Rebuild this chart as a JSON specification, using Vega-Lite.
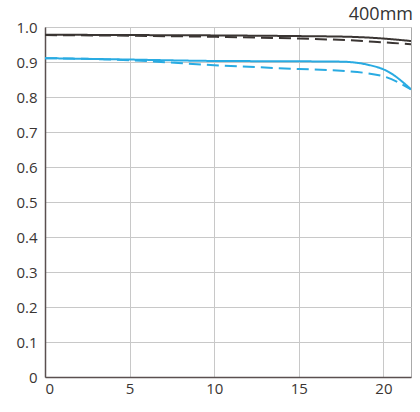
{
  "$schema": "https://vega.github.io/schema/vega-lite/v6.json",
  "width": 366,
  "height": 350,
  "autosize": {"type": "none"},
  "padding": {"left": 45, "top": 27, "right": 9, "bottom": 35},
  "background": "white",
  "title": {"text": "400mm", "anchor": "end", "fontSize": 18, "fontWeight": "normal", "font": "Open Sans", "color": "#333333", "offset": 0, "baseline": "alphabetic", "dy": 18, "dx": 2},
  "config": {
    "view": {"stroke": "#aaaaaa", "strokeWidth": 1},
    "axis": {"labelFont": "Open Sans", "labelFontSize": 15, "labelColor": "#3a3533", "gridColor": "#c8c8c8", "gridOpacity": 1, "domainColor": "#5a5050", "domainWidth": 1.5, "ticks": false, "title": null}
  },
  "data": {"values": [
    {"x": 0, "y": 0.978, "s": "Sagittal black"},
    {"x": 5, "y": 0.977, "s": "Sagittal black"},
    {"x": 10, "y": 0.976, "s": "Sagittal black"},
    {"x": 15, "y": 0.974, "s": "Sagittal black"},
    {"x": 18, "y": 0.972, "s": "Sagittal black"},
    {"x": 20, "y": 0.967, "s": "Sagittal black"},
    {"x": 21.63, "y": 0.96, "s": "Sagittal black"},
    {"x": 0, "y": 0.977, "s": "Meridional black"},
    {"x": 5, "y": 0.975, "s": "Meridional black"},
    {"x": 10, "y": 0.972, "s": "Meridional black"},
    {"x": 15, "y": 0.967, "s": "Meridional black"},
    {"x": 18, "y": 0.962, "s": "Meridional black"},
    {"x": 20, "y": 0.956, "s": "Meridional black"},
    {"x": 21.63, "y": 0.951, "s": "Meridional black"},
    {"x": 0, "y": 0.911, "s": "Sagittal blue"},
    {"x": 5, "y": 0.907, "s": "Sagittal blue"},
    {"x": 10, "y": 0.903, "s": "Sagittal blue"},
    {"x": 15, "y": 0.902, "s": "Sagittal blue"},
    {"x": 17.5, "y": 0.901, "s": "Sagittal blue"},
    {"x": 19, "y": 0.893, "s": "Sagittal blue"},
    {"x": 20.3, "y": 0.872, "s": "Sagittal blue"},
    {"x": 21.63, "y": 0.822, "s": "Sagittal blue"},
    {"x": 0, "y": 0.911, "s": "Meridional blue"},
    {"x": 5, "y": 0.905, "s": "Meridional blue"},
    {"x": 10, "y": 0.891, "s": "Meridional blue"},
    {"x": 15, "y": 0.88, "s": "Meridional blue"},
    {"x": 17.5, "y": 0.875, "s": "Meridional blue"},
    {"x": 20, "y": 0.859, "s": "Meridional blue"},
    {"x": 21.63, "y": 0.822, "s": "Meridional blue"}
  ]},
  "mark": {"type": "line", "interpolate": "monotone", "strokeWidth": 2, "clip": true},
  "encoding": {
    "x": {"field": "x", "type": "quantitative", "scale": {"domain": [0, 21.63], "nice": false}, "axis": {"values": [0, 5, 10, 15, 20], "labelPadding": 4}},
    "y": {"field": "y", "type": "quantitative", "scale": {"domain": [0, 1], "nice": false}, "axis": {"values": [0, 0.1, 0.2, 0.3, 0.4, 0.5, 0.6, 0.7, 0.8, 0.9, 1.0], "labelExpr": "datum.value == 0 ? '0' : format(datum.value, '.1f')", "labelPadding": 8}},
    "color": {"field": "s", "type": "nominal", "legend": null, "scale": {"domain": ["Sagittal black", "Meridional black", "Sagittal blue", "Meridional blue"], "range": ["#3a3533", "#3a3533", "#29abe2", "#29abe2"]}},
    "strokeDash": {"field": "s", "type": "nominal", "legend": null, "scale": {"domain": ["Sagittal black", "Meridional black", "Sagittal blue", "Meridional blue"], "range": [[1, 0], [12, 6], [1, 0], [12, 6]]}}
  }
}
